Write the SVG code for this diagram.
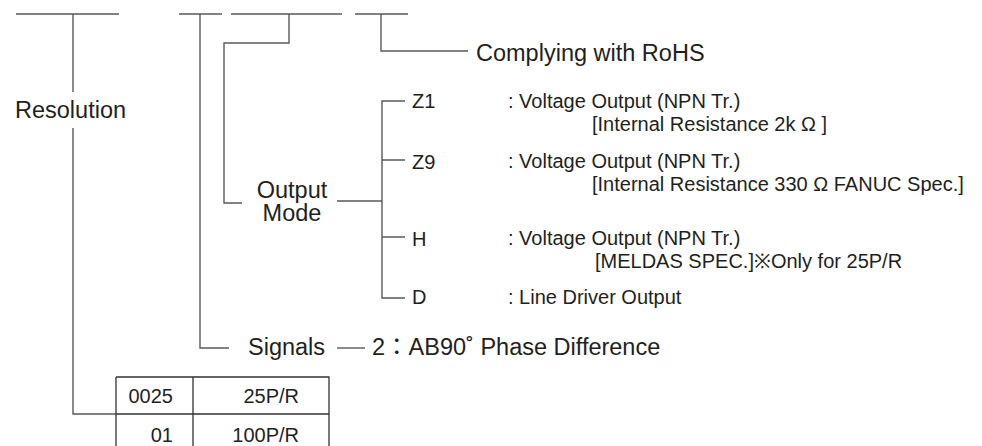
<svg xmlns="http://www.w3.org/2000/svg" width="982" height="446" viewBox="0 0 982 446">
<style>
.ln{stroke:#5a5a5a;stroke-width:1.4;fill:none}
.tb{stroke:#333;stroke-width:1.3;fill:none}
text{font-family:"Liberation Sans",Arial,Helvetica,sans-serif;fill:#231f20}
.lb{font-size:23.5px}
.ds{font-size:20px}
</style>
<rect width="982" height="446" fill="#fff"/>
<g id="connectors">
<path class="ln" d="M16 14H119M179 14H222M231 14H342M355 14H408"/>
<path class="ln" d="M73 14V92M73 128V414H116"/>
<path class="ln" d="M200 14V348H229"/>
<path class="ln" d="M289 14V43H224V203H242"/>
<path class="ln" d="M381 14V51H468"/>
<path class="ln" d="M337 201H382M405 101H382V298H405M382 160H405M382 237H405"/>
<path class="ln" d="M337 348H365"/>
</g>
<g id="node-rohs"><text class="lb" x="476" y="61">Complying with RoHS</text></g>
<g id="node-resolution"><text class="lb" x="15" y="118">Resolution</text></g>
<g id="node-output-mode"><text class="lb" x="292" y="198" text-anchor="middle">Output</text><text class="lb" x="292" y="221" text-anchor="middle">Mode</text></g>
<g id="node-z1"><text class="ds" x="412" y="108">Z1</text><text class="ds" x="508" y="108">: Voltage Output (NPN Tr.)</text><text class="ds" x="592" y="131">[Internal Resistance  2k Ω ]</text></g>
<g id="node-z9"><text class="ds" x="412" y="169">Z9</text><text class="ds" x="508" y="168">: Voltage Output (NPN Tr.)</text><text class="ds" x="592" y="191">[Internal Resistance 330 Ω  FANUC Spec.]</text></g>
<g id="node-h"><text class="ds" x="412" y="246">H</text><text class="ds" x="508" y="245">: Voltage Output (NPN Tr.)</text><text class="ds" x="595" y="268">[MELDAS SPEC.]※Only for 25P/R</text></g>
<g id="node-d"><text class="ds" x="412" y="304">D</text><text class="ds" x="508" y="304">: Line Driver Output</text></g>
<g id="node-signals"><text class="lb" x="248" y="355">Signals</text><text class="lb" x="372" y="355">2<tspan font-family="'Noto Sans CJK JP',sans-serif">：</tspan>AB90˚ Phase Difference</text></g>
<g id="node-table">
<path class="tb" d="M116 377H329V446M116 377V446M193 377V446M116 414H329"/>
<text class="ds" x="173" y="403" text-anchor="end">0025</text>
<text class="ds" x="299" y="403" text-anchor="end">25P/R</text>
<text class="ds" x="173" y="442" text-anchor="end">01</text>
<text class="ds" x="299" y="442" text-anchor="end">100P/R</text>
</g>
</svg>
